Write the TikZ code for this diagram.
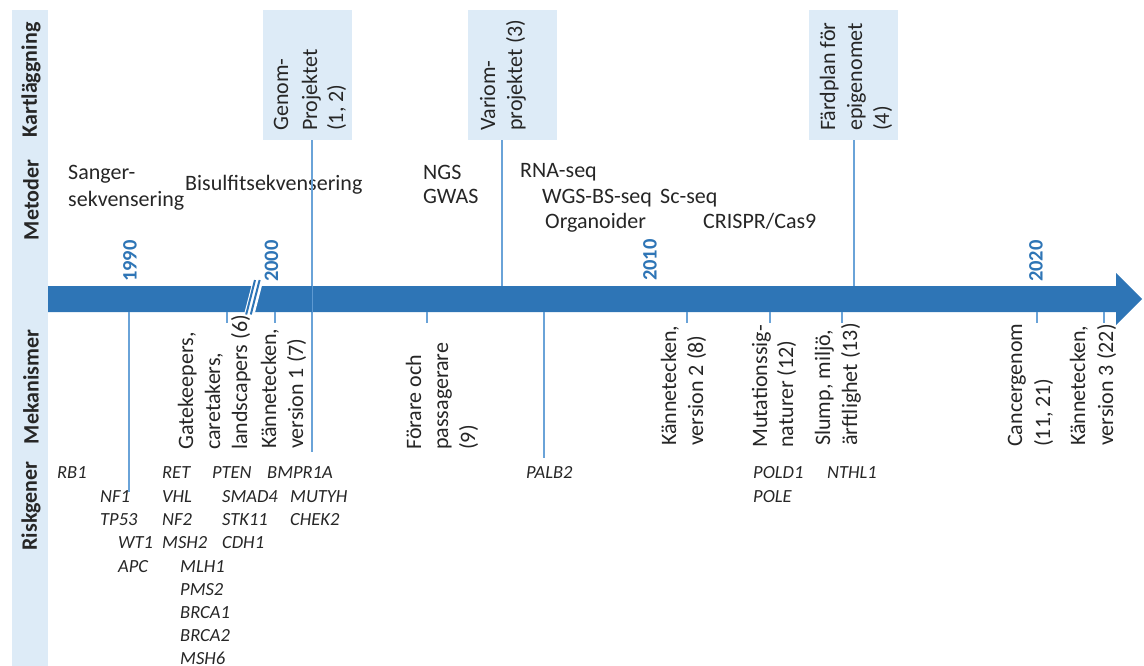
\documentclass[tikz,border=0pt]{standalone}
\usepackage{fontspec}
\setmainfont{Carlito}
\definecolor{barblue}{HTML}{2E75B6}
\definecolor{boxblue}{HTML}{DDEBF7}
\definecolor{lineblue}{HTML}{6AA3D8}
\definecolor{tc}{HTML}{262626}
\tikzset{
  txt/.style={font=\fontsize{22}{27}\selectfont, text=tc, inner sep=0pt, anchor=base west},
  vtxt/.style={txt, rotate=90},
  gene/.style={font=\fontsize{18.5}{23}\selectfont\itshape, text=tc, inner sep=0pt, anchor=base west},
  sec/.style={font=\fontsize{22}{27}\selectfont\bfseries, text=tc, rotate=90, inner sep=0pt},
  year/.style={font=\fontsize{20.5}{24}\selectfont\bfseries, text=barblue, rotate=90, inner sep=0pt, anchor=base west},
  mapbox/.style={fill=boxblue, draw=none, inner sep=0pt, minimum width=89pt, minimum height=130pt, anchor=north west},
  conn/.style={draw=lineblue, line width=1.2pt},
}
\begin{document}
\begin{tikzpicture}[x=1pt,y=-1pt]
\useasboundingbox (0,0) rectangle (1144,666);

% section column
\fill[boxblue] (12,10) rectangle (48,666);
\node[sec] (kart) at (31,80) {Kartläggning};
\node[sec] (meto) at (31,200) {Metoder};
\node[sec] (meka) at (31,387) {Mekanismer};
\node[sec] (risk) at (31,506) {Riskgener};

% mapping boxes
\node[mapbox] (genbox) at (263,10) {};
\node[mapbox] (varbox) at (468,10) {};
\node[mapbox] (farbox) at (809,10) {};

\node[vtxt] (gen1) at (288,131) {Genom-};
\node[vtxt] (gen2) at (317,131) {Projektet};
\node[vtxt] (gen3) at (343,131) {(1, 2)};
\node[vtxt] (var1) at (495,131) {Variom-};
\node[vtxt] (var2) at (522,131) {projektet (3)};
\node[vtxt] (far1) at (835,131) {Färdplan för};
\node[vtxt] (far2) at (862,131) {epigenomet};
\node[vtxt] (far3) at (889,131) {(4)};

% methods
\node[txt] (sang1) at (68,179) {Sanger-};
\node[txt] (sang2) at (68,207) {sekvensering};
\node[txt] (bisu) at (185,191) {Bisulfitsekvensering};
\node[txt] (ngs) at (423,179) {NGS};
\node[txt] (gwas) at (423,204) {GWAS};
\node[txt] (rna) at (520,178) {RNA-seq};
\node[txt] (wgs) at (542,204) {WGS-BS-seq};
\node[txt] (scseq) at (660,204) {Sc-seq};
\node[txt] (orga) at (545,229) {Organoider};
\node[txt] (cris) at (703,229) {CRISPR/Cas9};

% years
\node[year] (y1990) at (136.5,282) {1990};
\node[year] (y2000) at (278,282) {2000};
\node[year] (y2010) at (656.5,281) {2010};
\node[year] (y2020) at (1042.5,282) {2020};

% connectors from mapping boxes
\coordinate (genend) at (312,452);
\coordinate (varend) at (502,286);
\coordinate (farend) at (854,286);
\draw[conn] (genbox.south -| genend) -- (genend);
\draw[conn] (varbox.south -| varend) -- (varend);
\draw[conn] (farbox.south -| farend) -- (farend);

% timeline bar
\fill[barblue] (48,286) -- (1116,286) -- (1116,273) -- (1142,299) -- (1116,325) -- (1116,312) -- (48,312) -- cycle;
% break
\fill[white] (244.5,312.5) -- (255,312.5) -- (262,285.5) -- (251.5,285.5) -- cycle;
\draw[barblue, line width=2pt] (246.2,314.5) -- (255,280);
\draw[barblue, line width=2pt] (250.8,314.5) -- (259.6,280);
% genome line visible across bar
\draw[lineblue, line width=1pt, opacity=0.8] (312,286) -- (312,312);

% ticks below bar
\foreach \tx in {227,275,427,687,770,842,1037,1104}
  \draw[conn] (\tx,312) -- (\tx,323);
\coordinate (nf1top) at (129,492);
\coordinate (palbtop) at (544,458);
\draw[conn] (129,312) -- (nf1top);
\draw[conn] (544,312) -- (palbtop);

% mechanisms
\node[vtxt] (gate1) at (193,450) {Gatekeepers,};
\node[vtxt] (gate2) at (220,450) {caretakers,};
\node[vtxt] (gate3) at (247,450) {landscapers (6)};
\node[vtxt] (hal1a) at (276,449) {Kännetecken,};
\node[vtxt] (hal1b) at (303,449) {version 1 (7)};
\node[vtxt] (fora1) at (421,450) {Förare och};
\node[vtxt] (fora2) at (448,450) {passagerare};
\node[vtxt] (fora3) at (475,450) {(9)};
\node[vtxt] (hal2a) at (676,446) {Kännetecken,};
\node[vtxt] (hal2b) at (703,446) {version 2 (8)};
\node[vtxt] (muta1) at (767,448) {Mutationssig-};
\node[vtxt] (muta2) at (793,448) {naturer (12)};
\node[vtxt] (slum1) at (830,446) {Slump, miljö,};
\node[vtxt] (slum2) at (857,446) {ärftlighet (13)};
\node[vtxt] (canc1) at (1022,447) {Cancergenom};
\node[vtxt] (canc2) at (1050,447) {(11, 21)};
\node[vtxt] (hal3a) at (1085,446) {Kännetecken,};
\node[vtxt] (hal3b) at (1113,446) {version 3 (22)};

% risk genes
\node[gene] (rb1) at (57,478) {RB1};
\node[gene] (nf1) at (100,502) {NF1};
\node[gene] (tp53) at (100,525) {TP53};
\node[gene] (wt1) at (118,548) {WT1};
\node[gene] (apc) at (118,572) {APC};
\node[gene] (ret) at (162,478) {RET};
\node[gene] (vhl) at (162,502) {VHL};
\node[gene] (nf2) at (162,525) {NF2};
\node[gene] (msh2) at (162,548) {MSH2};
\node[gene] (mlh1) at (180,572) {MLH1};
\node[gene] (pms2) at (180,595) {PMS2};
\node[gene] (brca1) at (180,618) {BRCA1};
\node[gene] (brca2) at (180,641) {BRCA2};
\node[gene] (msh6) at (180,664) {MSH6};
\node[gene] (pten) at (212,478) {PTEN};
\node[gene] (smad4) at (222,502) {SMAD4};
\node[gene] (stk11) at (222,525) {STK11};
\node[gene] (cdh1) at (222,548) {CDH1};
\node[gene] (bmpr) at (267,478) {BMPR1A};
\node[gene] (mutyh) at (290,502) {MUTYH};
\node[gene] (chek2) at (290,525) {CHEK2};
\node[gene] (palb2) at (526,478) {PALB2};
\node[gene] (pold1) at (753,478) {POLD1};
\node[gene] (pole) at (753,502) {POLE};
\node[gene] (nthl1) at (827,478) {NTHL1};
\end{tikzpicture}
\end{document}
